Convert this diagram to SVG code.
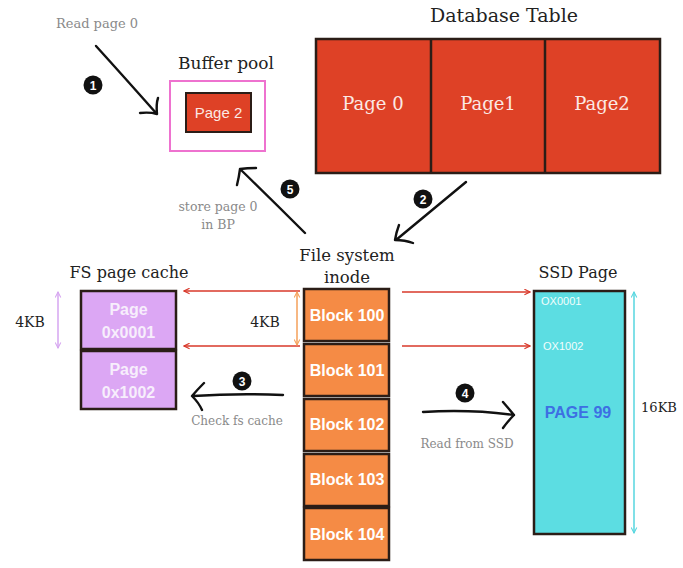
<svg xmlns="http://www.w3.org/2000/svg" width="683" height="568" viewBox="0 0 683 568">
<defs>
<style>
.title{font-family:"DejaVu Serif","Liberation Serif",serif;font-size:16px;fill:#222;text-anchor:middle}
.note{font-family:"DejaVu Serif","Liberation Serif",serif;font-size:12px;fill:#8a8a8a;text-anchor:middle}
.tbl{font-family:"DejaVu Serif","Liberation Serif",serif;font-size:18px;fill:#fbe9e4;text-anchor:middle}
.blk{font-family:"Liberation Sans",Arial,sans-serif;font-size:16px;font-weight:bold;fill:#fff;text-anchor:middle}
.pg{font-family:"Liberation Sans",Arial,sans-serif;font-size:16px;font-weight:bold;fill:#f7eefc;text-anchor:middle}
.hand{fill:none;stroke:#111;stroke-width:2.4;stroke-linecap:round;stroke-linejoin:round}
.red{stroke:#d8382a;stroke-width:1.6;fill:none}
.num{font-family:"Liberation Sans",Arial,sans-serif;font-size:12px;font-weight:bold;fill:#fff;text-anchor:middle}
.box{stroke:#2b1d17;stroke-width:2.5}
</style>
<marker id="rh" viewBox="0 0 10 10" refX="9" refY="5" markerWidth="7" markerHeight="7" orient="auto-start-reverse" markerUnits="userSpaceOnUse">
<path d="M1,1 L9,5 L1,9" fill="none" stroke="#d8382a" stroke-width="1.6"/>
</marker>
<marker id="oh" viewBox="0 0 10 10" refX="9" refY="5" markerWidth="7" markerHeight="7" orient="auto-start-reverse" markerUnits="userSpaceOnUse">
<path d="M1,1 L9,5 L1,9" fill="none" stroke="#f5a05a" stroke-width="1.5"/>
</marker>
<marker id="ph" viewBox="0 0 10 10" refX="9" refY="5" markerWidth="7" markerHeight="7" orient="auto-start-reverse" markerUnits="userSpaceOnUse">
<path d="M1,1 L9,5 L1,9" fill="none" stroke="#d6a6f0" stroke-width="1.5"/>
</marker>
<marker id="ch" viewBox="0 0 10 10" refX="9" refY="5" markerWidth="7" markerHeight="7" orient="auto-start-reverse" markerUnits="userSpaceOnUse">
<path d="M1,1 L9,5 L1,9" fill="none" stroke="#56d6df" stroke-width="1.5"/>
</marker>
</defs>
<rect width="683" height="568" fill="#fff"/>

<text class="note" x="97" y="28" style="font-size:13px">Read page 0</text>

<g id="database-table">
<text class="title" x="504" y="22" style="font-size:19px">Database Table</text>
<rect class="box" x="316" y="39" width="344" height="134" fill="#de4126"/>
<line x1="431" y1="39" x2="431" y2="173" stroke="#2b1d17" stroke-width="2.5"/>
<line x1="545" y1="39" x2="545" y2="173" stroke="#2b1d17" stroke-width="2.5"/>
<text class="tbl" x="373" y="110">Page 0</text>
<text class="tbl" x="488" y="110">Page1</text>
<text class="tbl" x="602" y="110">Page2</text>
</g>

<g id="buffer-pool">
<text class="title" x="226" y="69" style="font-size:17px">Buffer pool</text>
<rect x="170" y="81" width="95" height="70" fill="#fff" stroke="#ee72cf" stroke-width="2"/>
<rect x="186" y="93" width="65" height="39" fill="#de4126" stroke="#2b1d17" stroke-width="2"/>
<text x="218.5" y="118" style="font-family:'Liberation Sans',Arial,sans-serif;font-size:15px;fill:#fbe9e4;text-anchor:middle">Page 2</text>
</g>

<g id="file-system-inode">
<text class="title" x="347" y="261" style="font-size:16.5px">File system</text>
<text class="title" x="347" y="283" style="font-size:16.5px">inode</text>
<rect class="box" x="304" y="289" width="85" height="52" fill="#f58b45"/>
<rect class="box" x="304" y="344" width="85" height="52" fill="#f58b45"/>
<rect class="box" x="304" y="399" width="85" height="52" fill="#f58b45"/>
<rect class="box" x="304" y="454" width="85" height="52" fill="#f58b45"/>
<rect class="box" x="304" y="508" width="85" height="52" fill="#f58b45"/>
<text class="blk" x="347" y="321">Block 100</text>
<text class="blk" x="347" y="376">Block 101</text>
<text class="blk" x="347" y="430">Block 102</text>
<text class="blk" x="347" y="485">Block 103</text>
<text class="blk" x="347" y="540">Block 104</text>
</g>

<g id="fs-page-cache">
<text class="title" x="129" y="278">FS page cache</text>
<rect class="box" x="81" y="291" width="95" height="58" fill="#dca7f4"/>
<rect class="box" x="81" y="351" width="95" height="58" fill="#dca7f4"/>
<text class="pg" x="128.5" y="315">Page</text>
<text class="pg" x="128.5" y="338">0x0001</text>
<text class="pg" x="128.5" y="375">Page</text>
<text class="pg" x="128.5" y="398">0x1002</text>
<line x1="58" y1="292" x2="58" y2="348" stroke="#d6a6f0" stroke-width="1.5" marker-start="url(#ph)" marker-end="url(#ph)"/>
<text class="title" x="30" y="327" style="font-size:14px">4KB</text>
</g>

<g id="ssd-page">
<text class="title" x="578" y="278">SSD Page</text>
<rect class="box" x="534" y="291" width="91" height="243" fill="#5cdde2"/>
<text x="541" y="305" style="font-family:'Liberation Sans',Arial,sans-serif;font-size:11px;fill:#f2fdfd">OX0001</text>
<text x="543" y="350" style="font-family:'Liberation Sans',Arial,sans-serif;font-size:11px;fill:#f2fdfd">OX1002</text>
<text x="578" y="418" style="font-family:'Liberation Sans',Arial,sans-serif;font-size:16px;font-weight:bold;fill:#3d6fe3;text-anchor:middle">PAGE 99</text>
<line x1="634" y1="292" x2="634" y2="533" stroke="#56d6df" stroke-width="1.5" marker-start="url(#ch)" marker-end="url(#ch)"/>
<text class="title" x="659" y="412" style="font-size:13px">16KB</text>
</g>

<g id="connectors">
<line class="red" x1="300" y1="291" x2="184" y2="291" marker-end="url(#rh)"/>
<line class="red" x1="300" y1="346" x2="184" y2="346" marker-end="url(#rh)"/>
<line class="red" x1="402" y1="292" x2="530" y2="292" marker-end="url(#rh)"/>
<line class="red" x1="402" y1="346" x2="530" y2="346" marker-end="url(#rh)"/>
<line x1="297" y1="292" x2="297" y2="345" stroke="#f5a05a" stroke-width="1.5" marker-start="url(#oh)" marker-end="url(#oh)"/>
<text class="title" x="265" y="327" style="font-size:14px">4KB</text>

<path class="hand" d="M96,46 Q125,78 156,113 M140,113 Q150,112 157,114 Q156,104 158,98"/>
<path class="hand" d="M466,182 Q430,212 396,240 M399,225 Q396,233 395,240 Q405,240 413,243"/>
<path class="hand" d="M305,233 Q272,200 240,169 M256,168 Q247,168 240,169 Q239,177 237,185"/>
<path class="hand" d="M283,395 Q238,393 193,396 M204,383 Q197,390 192,396 Q199,403 202,410"/>
<path class="hand" d="M423,412 Q470,409 514,415 M503,402 Q509,409 514,415 Q508,421 503,428"/>

<circle cx="93" cy="85" r="9.5" fill="#111"/><text class="num" x="93" y="89.5">1</text>
<circle cx="423" cy="199" r="9.5" fill="#111"/><text class="num" x="423" y="203.5">2</text>
<circle cx="242" cy="381" r="9.5" fill="#111"/><text class="num" x="242" y="385.5">3</text>
<circle cx="465" cy="393" r="9.5" fill="#111"/><text class="num" x="465" y="397.5">4</text>
<circle cx="290" cy="189" r="9.5" fill="#111"/><text class="num" x="290" y="193.5">5</text>

<text class="note" x="218" y="211" style="font-size:12.5px">store page 0</text>
<text class="note" x="218" y="229" style="font-size:12.5px">in BP</text>
<text class="note" x="237" y="425">Check fs cache</text>
<text class="note" x="467" y="448">Read from SSD</text>
</g>
</svg>
